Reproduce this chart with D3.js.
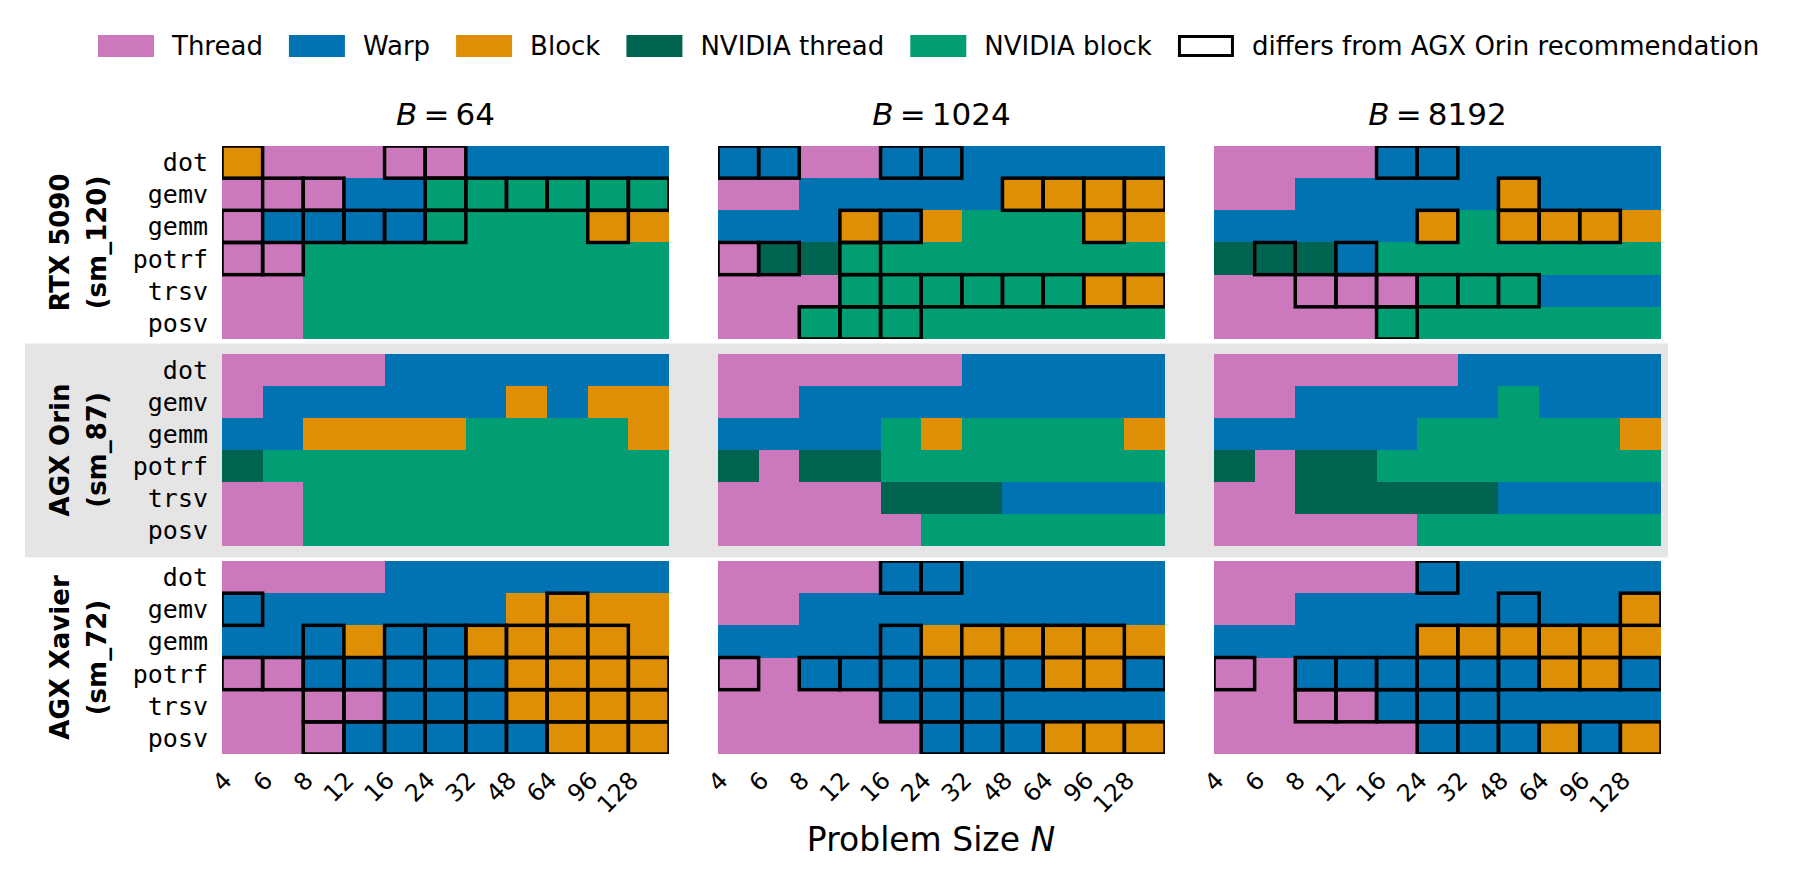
<!DOCTYPE html>
<html lang="en">
<head>
<meta charset="UTF-8">
<title>Execution level recommendations</title>
<script src="https://cdn.jsdelivr.net/npm/d3@7"></script>
<style>
  body { margin: 0; background: #fff; }
  text { font-family: "DejaVu Sans", sans-serif; fill: #000; }
  .ytick { font-family: "DejaVu Sans Mono", monospace; font-size: 25px; }
  .xtick { font-size: 24px; }
  .rowlabel { font-weight: bold; font-size: 26px; }
  .legend text { font-size: 26px; }
  .title { font-size: 31px; }
  .cell { shape-rendering: crispEdges; }
  .diff { fill: none; stroke: #000; stroke-width: 3.5px; }
</style>
</head>
<body>
<div id="chart"></div>
<script>
// problem sizes (columns) and routines (rows)
var sizes = [4, 6, 8, 12, 16, 24, 32, 48, 64, 96, 128];
var ops = ["dot", "gemv", "gemm", "potrf", "trsv", "posv"];
var batches = [64, 1024, 8192];

var deviceNames = ["RTX 5090", "AGX Orin", "AGX Xavier"];
var deviceArch = ["(sm_120)", "(sm_87)", "(sm_72)"];
var referenceDevice = "AGX Orin";

// legend categories: code -> label, colour
var levelCodes = ["T", "W", "B", "NT", "NB"];
var levelLabels = ["Thread", "Warp", "Block", "NVIDIA thread", "NVIDIA block"];
var levelColors = ["#cc78bc", "#0173b2", "#de8f05", "#016450", "#029e73"];

// recommended level per batch size, one string per routine (dot..posv), one code per N
var rtx5090 = [
  [ // B = 64
    "B T T T T T W W W W W",
    "T T T W W NB NB NB NB NB NB",
    "T W W W W NB NB NB NB B B",
    "T T NB NB NB NB NB NB NB NB NB",
    "T T NB NB NB NB NB NB NB NB NB",
    "T T NB NB NB NB NB NB NB NB NB"
  ],
  [ // B = 1024
    "W W T T W W W W W W W",
    "T T W W W W W B B B B",
    "W W W B W B NB NB NB B B",
    "T NT NT NB NB NB NB NB NB NB NB",
    "T T T NB NB NB NB NB NB B B",
    "T T NB NB NB NB NB NB NB NB NB"
  ],
  [ // B = 8192
    "T T T T W W W W W W W",
    "T T W W W W W B W W W",
    "W W W W W B NB B B B B",
    "NT NT NT W NB NB NB NB NB NB NB",
    "T T T T T NB NB NB W W W",
    "T T T T NB NB NB NB NB NB NB"
  ]
];

var agxOrin = [
  [
    "T T T T W W W W W W W",
    "T W W W W W W B W B B",
    "W W B B B B NB NB NB NB B",
    "NT NB NB NB NB NB NB NB NB NB NB",
    "T T NB NB NB NB NB NB NB NB NB",
    "T T NB NB NB NB NB NB NB NB NB"
  ],
  [
    "T T T T T T W W W W W",
    "T T W W W W W W W W W",
    "W W W W NB B NB NB NB NB B",
    "NT T NT NT NB NB NB NB NB NB NB",
    "T T T T NT NT NT W W W W",
    "T T T T T NB NB NB NB NB NB"
  ],
  [
    "T T T T T T W W W W W",
    "T T W W W W W NB W W W",
    "W W W W W NB NB NB NB NB B",
    "NT T NT NT NB NB NB NB NB NB NB",
    "T T NT NT NT NT NT W W W W",
    "T T T T T NB NB NB NB NB NB"
  ]
];

var agxXavier = [
  [
    "T T T T W W W W W W W",
    "W W W W W W W B B B B",
    "W W W B W W B B B B B",
    "T T W W W W W B B B B",
    "T T T T W W W B B B B",
    "T T T W W W W W B B B"
  ],
  [
    "T T T T W W W W W W W",
    "T T W W W W W W W W W",
    "W W W W W B B B B B B",
    "T T W W W W W W B B W",
    "T T T T W W W W W W W",
    "T T T T T W W W B B B"
  ],
  [
    "T T T T T W W W W W W",
    "T T W W W W W W W W B",
    "W W W W W B B B B B B",
    "T T W W W W W W B B W",
    "T T T T W W W W W W W",
    "T T T T T W W W B W B"
  ]
];

var deviceData = [rtx5090, agxOrin, agxXavier];

var width = 1800, height = 887;

var svg = d3.select("#chart").append("svg")
    .attr("width", width)
    .attr("height", height);

var color = d3.scaleOrdinal().domain(levelCodes).range(levelColors);

// panel grid
var colScale = d3.scaleBand().domain(batches).range([222, 1661]).paddingInner(0.0988);
var rowScale = d3.scaleBand().domain(deviceNames).range([146, 754]).paddingInner(0.07);

var x = d3.scaleBand().domain(sizes).range([0, colScale.bandwidth()]);
var y = d3.scaleBand().domain(ops).range([0, rowScale.bandwidth()]);

var refIndex = deviceNames.indexOf(referenceDevice);
var parsed = deviceData.map(function(dev) {
  return dev.map(function(b) { return b.map(function(s) { return s.split(" "); }); });
});

// grey band behind the reference device
svg.append("rect")
    .attr("x", 25)
    .attr("y", rowScale(referenceDevice) - 10)
    .attr("width", colScale(batches[2]) + colScale.bandwidth() + 7 - 25)
    .attr("height", rowScale.bandwidth() + 21)
    .attr("fill", "#e5e5e5");

deviceNames.forEach(function(dev, di) {
  batches.forEach(function(b, bi) {
    var g = svg.append("g")
        .attr("transform", "translate(" + colScale(b) + "," + rowScale(dev) + ")");

    var clipId = "clip" + di + "_" + bi;
    g.append("clipPath").attr("id", clipId)
      .append("rect")
        .attr("width", colScale.bandwidth())
        .attr("height", rowScale.bandwidth());

    var cells = [];
    ops.forEach(function(op, oi) {
      sizes.forEach(function(n, ni) {
        var v = parsed[di][bi][oi][ni];
        cells.push({op: op, n: n, v: v,
          diff: di !== refIndex && v !== parsed[refIndex][bi][oi][ni]});
      });
    });

    g.selectAll("rect.cell").data(cells).enter().append("rect")
        .attr("class", "cell")
        .attr("x", function(d) { return x(d.n); })
        .attr("y", function(d) { return y(d.op); })
        .attr("width", x.bandwidth())
        .attr("height", y.bandwidth())
        .attr("fill", function(d) { return color(d.v); });

    g.append("g").attr("clip-path", "url(#" + clipId + ")")
      .selectAll("rect.diff").data(cells.filter(function(d) { return d.diff; })).enter().append("rect")
        .attr("class", "diff")
        .attr("x", function(d) { return x(d.n); })
        .attr("y", function(d) { return y(d.op); })
        .attr("width", x.bandwidth())
        .attr("height", y.bandwidth());

    // y tick labels on the first column
    if (bi === 0) {
      g.selectAll("text.ytick").data(ops).enter().append("text")
          .attr("class", "ytick")
          .attr("x", -14)
          .attr("y", function(d) { return y(d) + y.bandwidth() / 2; })
          .attr("dy", "0.36em")
          .attr("text-anchor", "end")
          .text(function(d) { return d; });
    }

    // titles on top row
    if (di === 0) {
      var t = g.append("text")
          .attr("class", "title")
          .attr("x", colScale.bandwidth() / 2)
          .attr("y", -21)
          .attr("text-anchor", "middle");
      t.append("tspan").attr("font-style", "italic").text("B");
      t.append("tspan").text("\u2009=\u2009" + b);
    }

    // x tick labels on bottom row
    if (di === deviceNames.length - 1) {
      g.selectAll("text.xtick").data(sizes).enter().append("text")
          .attr("class", "xtick")
          .attr("text-anchor", "end")
          .attr("transform", function(d) {
            return "translate(" + (x(d) + x.bandwidth() / 2 - 9) + "," + (rowScale.bandwidth() + 28) + ") rotate(-45)";
          })
          .text(function(d) { return d; });
    }
  });

  // device row label
  var cy = rowScale(dev) + rowScale.bandwidth() / 2;
  var lab = svg.append("text")
      .attr("class", "rowlabel")
      .attr("text-anchor", "middle")
      .attr("transform", "translate(69," + cy + ") rotate(-90)");
  lab.append("tspan").attr("x", 0).attr("y", 0).text(dev);
  lab.append("tspan").attr("x", 0).attr("y", 37).text(deviceArch[di]);
});

// x axis label
var xl = svg.append("text")
    .attr("x", 931)
    .attr("y", 851)
    .attr("text-anchor", "middle")
    .style("font-size", "33px");
xl.append("tspan").text("Problem Size ");
xl.append("tspan").attr("font-style", "italic").text("N");

// legend, laid out left to right
var legend = svg.append("g").attr("class", "legend");
var lx = 98;
var legendItems = levelLabels.map(function(l, i) { return {label: l, fill: levelColors[i], box: false}; });
legendItems.push({label: "differs from AGX Orin recommendation", fill: "none", box: true});
legendItems.forEach(function(item) {
  legend.append("rect")
      .attr("x", item.box ? lx + 1.5 : lx)
      .attr("y", item.box ? 36.5 : 35)
      .attr("width", item.box ? 53 : 56)
      .attr("height", item.box ? 19 : 22)
      .attr("fill", item.box ? "#fff" : item.fill)
      .attr("stroke", item.box ? "#000" : "none")
      .attr("stroke-width", 3);
  var txt = legend.append("text")
      .attr("x", lx + 74)
      .attr("y", 55)
      .text(item.label);
  lx += 74 + txt.node().getComputedTextLength() + 26;
});
</script>
</body>
</html>
